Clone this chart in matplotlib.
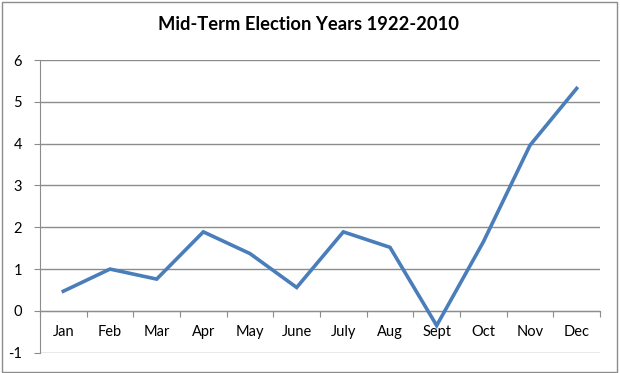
import matplotlib
matplotlib.use("Agg")
import matplotlib.pyplot as plt
from matplotlib.patches import Rectangle
from matplotlib.ticker import FixedLocator, NullFormatter, FixedFormatter

months = ["Jan", "Feb", "Mar", "Apr", "May", "June", "July", "Aug", "Sept", "Oct", "Nov", "Dec"]
values = [0.47, 1.0, 0.76, 1.89, 1.37, 0.56, 1.89, 1.52, -0.35, 1.65, 3.96, 5.32]
yticks = [-1, 0, 1, 2, 3, 4, 5, 6]
title = "Mid-Term Election Years 1922-2010"

plt.rcParams['font.family'] = ['Lato', 'DejaVu Sans']

fig = plt.figure(figsize=(6.2, 3.73), dpi=100)
ax = fig.add_axes([40/620, 1-352.7/373, 560/620, (352.7-60)/373])

x = [i + 0.5 for i in range(len(months))]
ax.plot(x, values, color="#4A7EBB", lw=2.6, solid_joinstyle="miter", zorder=5, clip_on=False)

ax.set_xlim(0, len(months))
ax.set_ylim(-1, 6)
ax.set_yticks(yticks)
ax.set_yticklabels([str(t) for t in yticks])
ax.yaxis.grid(True, color="#8C8C8C", lw=1.0)
ax.set_axisbelow(True)

for s in ["top", "right"]:
    ax.spines[s].set_visible(False)
ax.spines["left"].set_color("#8C8C8C")
ax.spines["bottom"].set_color("#8C8C8C")
ax.spines["bottom"].set_position(("data", 0))

ax.xaxis.set_major_locator(FixedLocator(range(0, len(months) + 1)))
ax.xaxis.set_major_formatter(NullFormatter())
ax.xaxis.set_minor_locator(FixedLocator(x))
ax.xaxis.set_minor_formatter(FixedFormatter(months))
ax.tick_params(axis="x", which="major", length=4, color="#8C8C8C", direction="out")
ax.tick_params(axis="x", which="minor", length=0, pad=10, labelsize=10.5, labelcolor="black")
ax.tick_params(axis="y", length=4, color="#8C8C8C", pad=9, labelsize=10.5, labelcolor="black")

fig.text(0.498, 1-25/373, title, ha="center", va="center", fontsize=13.2, fontweight="bold", color="black")

fig.patches.append(Rectangle((2/620, 1/373), 615/620, 370/373, transform=fig.transFigure,
                             fill=False, edgecolor="#8C8C8C", lw=1.0))

fig.savefig("out.png", dpi=100)
